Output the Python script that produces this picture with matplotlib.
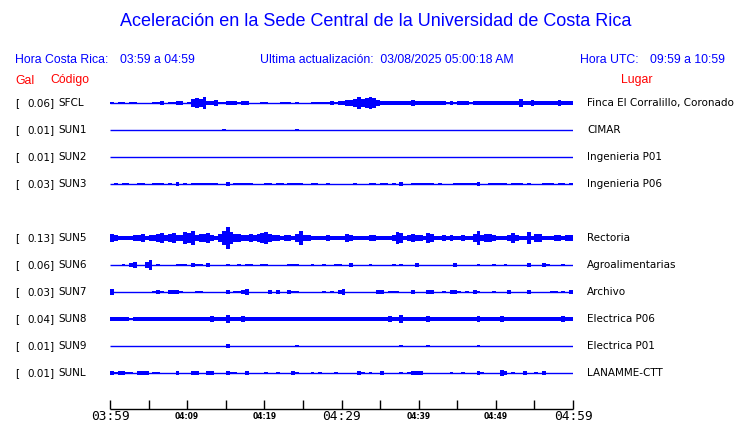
import matplotlib
matplotlib.use("Agg")
import matplotlib.pyplot as plt
import numpy as np

W, H = 740, 423
BLUE = "#0000ff"
RED = "#ff0000"

title = "Aceleración en la Sede Central de la Universidad de Costa Rica"
hora_cr = "03:59 a 04:59"
hora_utc = "09:59 a 10:59"
actualizacion = "03/08/2025 05:00:18 AM"

codes = ["SFCL", "SUN1", "SUN2", "SUN3", "SUN5", "SUN6", "SUN7", "SUN8", "SUN9", "SUNL"]
gal = ["0.06", "0.01", "0.01", "0.03", "0.13", "0.06", "0.03", "0.04", "0.01", "0.01"]
places = ["Finca El Corralillo, Coronado", "CIMAR", "Ingenieria P01", "Ingenieria P06",
          "Rectoria", "Agroalimentarias", "Archivo", "Electrica P06", "Electrica P01",
          "LANAMME-CTT"]
slots = [0, 1, 2, 3, 5, 6, 7, 8, 9, 10]   # SUN4 slot is empty

tick_minutes = [0, 5, 10, 15, 20, 25, 30, 35, 40, 45, 50, 55, 60]
tick_labels = ["03:59", "", "04:09", "", "04:19", "", "04:29", "", "04:39", "", "04:49", "", "04:59"]
big_labels = {"03:59", "04:29", "04:59"}

# envelope half-amplitude (display units) per 30-s window, 120 windows = 60 min
SFCL = [1,0,1,1,0,1,1,0,0,0, 0,1,1,2,0,1,1,2,2,0,
        1,4,5,4,6,2,2,3,1,1, 2,2,2,1,2,2,0,0,0,1,
        1,0,0,0,1,1,1,0,1,0, 0,0,1,1,1,1,1,2,1,2,
        2,3,3,4,6,4,5,6,5,3, 2,2,2,2,2,2,2,2,3,2,
        2,2,2,2,2,2,2,1,2,1, 2,2,2,1,2,2,2,2,2,2,
        2,2,2,2,2,2,4,2,2,3, 2,2,2,2,2,2,3,2,2,2]
SUN1 = [0]*29 + [1] + [0]*18 + [1] + [0]*71
SUN2 = [0]*120
SUN3 = [0,1,0,1,1,0,0,1,1,0, 0,1,1,1,0,1,0,2,0,1,
        0,1,1,1,1,1,1,1,0,0, 2,0,1,1,1,1,1,0,0,0,
        1,1,0,1,1,0,1,1,1,1, 0,0,1,1,0,0,1,0,0,0,
        0,0,0,1,0,0,0,1,1,0, 1,1,0,1,0,2,0,0,1,1,
        1,1,1,1,0,1,0,0,0,1, 1,1,1,1,1,2,0,0,1,1,
        1,1,1,0,1,1,1,0,1,0, 0,0,1,1,1,0,1,1,0,1]
SUN5 = [4,3,2,2,2,2,3,3,4,2, 3,3,4,5,3,4,5,3,3,6,
        5,7,3,4,4,5,3,2,4,7, 11,6,4,4,3,3,4,3,4,5,
        6,4,3,3,2,3,3,2,4,7, 3,3,2,2,2,2,3,2,2,2,
        2,4,3,2,2,2,2,3,3,2, 2,2,2,3,6,5,2,3,4,3,
        3,2,5,4,2,2,3,2,3,2, 2,3,2,2,4,7,3,4,4,3,
        2,2,2,3,5,3,2,2,6,2, 4,4,2,2,2,3,3,2,3,3]
SUN6 = [0,0,0,1,0,2,3,0,0,3, 5,0,1,0,0,0,0,1,1,1,
        0,2,1,1,0,2,0,0,0,0, 1,0,0,1,0,1,1,0,0,1,
        1,0,0,0,0,0,1,1,1,0, 0,0,1,0,0,1,0,0,1,1,
        0,0,2,0,0,0,0,1,0,0, 0,0,0,1,0,1,0,0,0,2,
        0,0,0,0,0,0,0,0,0,2, 0,0,0,0,0,1,0,0,0,1,
        0,0,1,0,0,0,0,0,2,0, 0,0,2,1,0,0,0,1,0,0]
SUN7 = [3,0,0,0,0,0,0,0,0,0, 0,1,2,1,0,2,2,2,1,0,
        0,0,1,1,0,0,0,0,0,0, 2,0,1,1,2,3,0,0,0,0,
        0,2,0,2,0,0,2,1,1,0, 0,0,0,0,0,1,0,1,0,2,
        3,0,0,0,0,0,0,0,0,2, 2,0,1,1,1,0,0,0,2,0,
        0,0,2,2,0,0,1,0,2,2, 1,0,1,0,2,1,0,0,0,1,
        0,0,0,2,0,0,0,0,2,0, 0,0,0,0,1,1,0,1,0,2]
SUN8 = [2,2,2,2,2,1,2,2,2,2, 2,2,2,2,2,2,2,2,2,2,
        2,2,2,2,2,2,3,2,2,2, 4,2,2,2,3,2,2,2,2,2,
        2,2,2,2,2,2,2,2,2,2, 2,2,2,2,2,2,2,2,2,2,
        2,2,2,2,2,2,2,2,2,2, 2,2,3,2,2,4,2,2,2,2,
        2,2,3,2,2,2,2,2,2,2, 2,2,2,2,2,3,2,2,2,2,
        2,3,2,2,2,2,2,2,2,2, 2,2,2,2,2,2,2,3,2,2]
SUN9 = [0]*30 + [2] + [0]*17 + [1] + [0]*26 + [1] + [0]*6 + [1] + [0]*12 + [1] + [0]*24
SUNL = [2,1,2,2,1,1,0,2,2,2, 0,1,1,0,0,0,0,2,0,0,
        0,2,2,0,0,2,2,0,0,0, 2,1,1,0,0,2,0,0,0,0,
        1,0,0,1,0,0,0,2,1,0, 0,0,1,0,1,0,0,0,1,0,
        0,0,0,0,2,1,0,1,0,0, 2,0,0,0,0,1,0,1,2,2,
        2,0,0,0,0,0,0,0,1,0, 0,1,0,0,0,2,1,0,0,0,
        0,3,2,0,1,0,0,2,0,0, 1,0,2,0,0,0,0,0,0,0]
traces = [SFCL, SUN1, SUN2, SUN3, SUN5, SUN6, SUN7, SUN8, SUN9, SUNL]

fig = plt.figure(figsize=(W / 100, H / 100), dpi=100)
fig.patch.set_facecolor("white")

def fx(px):
    return px / W

def fy(py):
    return 1 - py / H

# plotting axes: x in minutes, y in display-pixel units (inverted)
ax_l, ax_r, ax_top, ax_bot = 110, 573, 88, 409
ax = fig.add_axes([fx(ax_l), fy(ax_bot), (ax_r - ax_l) / W, (ax_bot - ax_top) / H])
ax.set_xlim(0, 60)
ax.set_ylim(ax_bot, ax_top)
ax.set_facecolor("none")
for s in ["top", "left", "right"]:
    ax.spines[s].set_visible(False)
ax.spines["bottom"].set_linewidth(1.0)
ax.spines["bottom"].set_capstyle("butt")
ax.set_yticks([])

row0, row_step = 103, 27
for code, amp, slot in zip(codes, traces, slots):
    yc = row0 + row_step * slot
    amp = np.asarray(amp, dtype=float)
    n = len(amp)
    dt = 60.0 / n
    t = np.arange(n) * dt
    ax.hlines(yc, 0, 60, color=BLUE, lw=1.0)
    ax.bar(t, 2 * amp, bottom=yc - amp, width=dt, align="edge",
           color=BLUE, linewidth=0, antialiased=False)

ax.set_xticks(tick_minutes)
ax.set_xticklabels(tick_labels)
ax.tick_params(axis="x", direction="in", length=6.5, width=1.0, pad=1.0, color="black")
for lab in ax.get_xticklabels():
    if lab.get_text() in big_labels:
        lab.set_fontfamily("DejaVu Sans Mono")
        lab.set_fontsize(9.3)
    else:
        lab.set_fontfamily("DejaVu Sans")
        lab.set_fontsize(5.5)
        lab.set_fontweight("bold")
        lab.set_y(-0.006)

# header texts
hf = "Liberation Sans"
hs = 8.85
fig.text(fx(375.5), fy(22), title, color=BLUE, fontsize=13, family=hf,
         ha="center", va="center")
fig.text(fx(15), fy(60), "Hora Costa Rica:", color=BLUE, fontsize=hs, family=hf, va="center")
fig.text(fx(120), fy(60), hora_cr, color=BLUE, fontsize=hs, family=hf, va="center")
fig.text(fx(260), fy(60), "Ultima actualización:  " + actualizacion, color=BLUE,
         fontsize=hs, family=hf, va="center")
fig.text(fx(580), fy(60), "Hora UTC:", color=BLUE, fontsize=hs, family=hf, va="center")
fig.text(fx(650), fy(60), hora_utc, color=BLUE, fontsize=hs, family=hf, va="center")
fig.text(fx(15), fy(80.5), "Gal", color=RED, fontsize=hs, family=hf, va="center")
fig.text(fx(50), fy(80.5), "Código", color=RED, fontsize=hs, family=hf, va="center")
fig.text(fx(652), fy(80.5), "Lugar", color=RED, fontsize=hs, family=hf, va="center", ha="right")

lf = "DejaVu Sans"
for code, g, place, slot in zip(codes, gal, places, slots):
    yc = row0 + row_step * slot
    fig.text(fx(15), fy(yc), "[", fontsize=7.5, family=lf, va="center")
    fig.text(fx(54.5), fy(yc), g + "]", fontsize=7.5, family=lf, va="center", ha="right")
    fig.text(fx(58.5), fy(yc), code, fontsize=7.5, family=lf, va="center")
    fig.text(fx(587), fy(yc), place, fontsize=7.5, family=lf, va="center")

fig.savefig("out.png", dpi=100, facecolor="white")
